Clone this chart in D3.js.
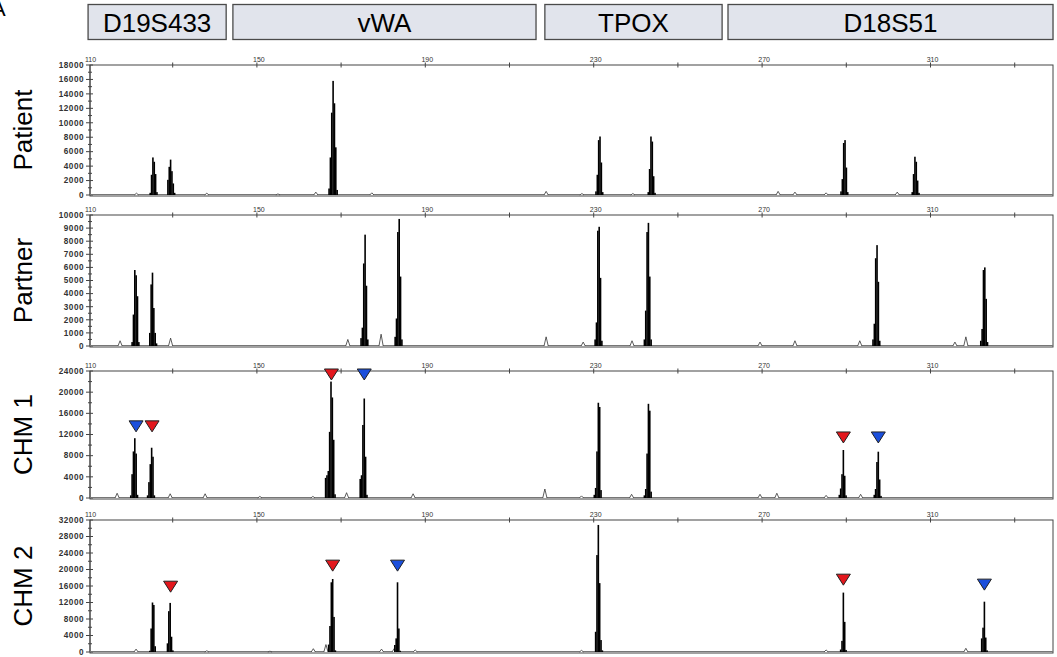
<!DOCTYPE html>
<html>
<head>
<meta charset="utf-8">
<script src="https://cdn.jsdelivr.net/npm/d3@7"></script>
<style>
  body { margin: 0; background: #fff; }
  svg { display: block; font-family: "Liberation Sans", Arial, sans-serif; }
</style>
</head>
<body>
<svg id="chart" width="1057" height="657"></svg>
<script>
// loci shown in the header, as bp ranges
const lociNames = ['D19S433', 'vWA', 'TPOX', 'D18S51'];
const lociRanges = [[109.9, 142.7], [144.3, 216.3], [218.4, 260.5], [261.9, 339.1]];

const sampleNames = ['Patient', 'Partner', 'CHM 1', 'CHM 2'];
const yMaxes = [18000, 10000, 24000, 32000];
const yTickSteps = [2000, 1000, 4000, 4000];
const xLabelTicks = [110, 150, 190, 230, 270, 310];
const xMinorTicks = [130, 170, 210, 250, 290, 330];

// allele peaks: bp of the tallest spike, spike heights (RFU) left to right
const patientPeaks = [
  { bp: 125.3, h: [300, 2800, 5200, 4600, 2900, 400] },
  { bp: 129.5, h: [2100, 3900, 4900, 3300, 1600, 300] },
  { bp: 168.1, h: [900, 5200, 11400, 15800, 12700, 6600, 700] },
  { bp: 231.5, h: [500, 2800, 7600, 8100, 4500, 400] },
  { bp: 243.6, h: [400, 3600, 8100, 7400, 2600, 300] },
  { bp: 289.7, h: [500, 2200, 7200, 7600, 3800, 400] },
  { bp: 306.3, h: [400, 2900, 5300, 4600, 2000, 300] }
];
const partnerPeaks = [
  { bp: 121.0, h: [300, 2400, 5800, 5400, 3800, 300] },
  { bp: 125.2, h: [1000, 4700, 5600, 2900, 1000, 200] },
  { bp: 175.7, h: [600, 1400, 6300, 8500, 4600, 500] },
  { bp: 183.8, h: [700, 2100, 8700, 9700, 5300, 500] },
  { bp: 231.3, h: [500, 1800, 8800, 9100, 5200, 400] },
  { bp: 243.0, h: [500, 2700, 8700, 9400, 5300, 500] },
  { bp: 297.3, h: [500, 1700, 6700, 7700, 4900, 400] },
  { bp: 322.9, h: [400, 1300, 5800, 6000, 3600, 300] }
];
const chm1Peaks = [
  { bp: 121.0, h: [500, 4500, 8800, 11300, 8400, 600] },
  { bp: 125.0, h: [500, 3000, 6400, 9500, 7800, 500] },
  { bp: 167.6, h: [3800, 4300, 5100, 12500, 22000, 19000, 11000, 700] },
  { bp: 175.5, h: [3600, 4300, 13800, 18800, 7800, 600] },
  { bp: 231.1, h: [600, 1900, 8800, 18000, 17200, 1500] },
  { bp: 243.0, h: [500, 1700, 8400, 17800, 16500, 1200] },
  { bp: 289.3, h: [600, 1800, 4500, 9070, 4200, 500] },
  { bp: 297.6, h: [600, 1700, 6800, 8750, 3500, 400] }
];
const chm2Peaks = [
  { bp: 125.2, h: [300, 5700, 12000, 11400, 1400] },
  { bp: 129.4, h: [2100, 9900, 11900, 3700, 400] },
  { bp: 168.0, h: [1800, 6300, 16900, 17700, 8500, 400] },
  { bp: 183.4, h: [1700, 3300, 16900, 5700, 300] },
  { bp: 231.1, h: [4900, 23500, 30800, 16700, 2900, 400] },
  { bp: 289.3, h: [600, 2700, 14400, 7300, 500] },
  { bp: 322.8, h: [3300, 5900, 12200, 3500, 400] }
];

// small background bumps: [bp, height]
const patientNoise = [[121.4, 250], [138.1, 250], [155.0, 150], [164.0, 400], [177.3, 300], [218.7, 500],
  [227.2, 200], [239.3, 200], [273.8, 500], [277.8, 400], [285.2, 300], [302.1, 400]];
const partnerNoise = [[117.5, 400], [129.5, 600], [171.6, 500], [179.5, 900], [218.7, 700], [227.5, 300],
  [239.1, 400], [269.5, 300], [277.8, 400], [293.2, 400], [315.8, 300], [318.4, 700]];
const chm1Noise = [[116.8, 900], [129.4, 800], [137.7, 800], [150.7, 300], [163.3, 300], [171.3, 1000],
  [187.1, 800], [218.4, 1700], [227.1, 400], [239.0, 700], [269.5, 700], [273.5, 900], [285.2, 500], [293.4, 700]];
const chm2Noise = [[121.3, 700], [138.1, 300], [153.1, 200], [163.4, 800], [166.4, 1800], [179.6, 700],
  [182.6, 800], [187.6, 500], [227.1, 400], [285.2, 500], [318.4, 900]];

// allele markers: [bp, tip height, parent]
const chm1Markers = [[121.3, 12500, 'P'], [125.1, 12500, 'M'], [167.7, 22300, 'M'], [175.5, 22300, 'P'],
  [289.3, 10400, 'M'], [297.6, 10400, 'P']];
const chm2Markers = [[129.5, 14500, 'M'], [168.0, 19600, 'M'], [183.4, 19600, 'P'],
  [289.3, 16200, 'M'], [322.8, 15000, 'P']];

const peaksBySample = [patientPeaks, partnerPeaks, chm1Peaks, chm2Peaks];
const noiseBySample = [patientNoise, partnerNoise, chm1Noise, chm2Noise];
const markersBySample = [[], [], chm1Markers, chm2Markers];

const markerColor = { M: '#e3171d', P: '#1b4fdc' };
const panelTops = [65, 215, 371, 520];
const panelBases = [195, 346, 498, 652];
const plotLeft = 90, plotRight = 1053;

const svg = d3.select('#chart');
const x = d3.scaleLinear().domain([110, 339]).range([88.5, 1052.6]);

// header boxes
svg.append('text').attr('x', -9).attr('y', 16).attr('font-size', 22).text('A');
const hdr = svg.append('g');
lociNames.forEach((name, i) => {
  const [a, b] = lociRanges[i];
  hdr.append('rect')
    .attr('x', x(a)).attr('y', 4.5)
    .attr('width', x(b) - x(a)).attr('height', 35)
    .attr('fill', '#e1e4ec').attr('stroke', '#4a4a4a').attr('stroke-width', 1.3);
  hdr.append('text')
    .attr('x', (x(a) + x(b)) / 2).attr('y', 32)
    .attr('text-anchor', 'middle').attr('font-size', 26)
    .text(name);
});

sampleNames.forEach((name, i) => {
  const top = panelTops[i], base = panelBases[i];
  const y = d3.scaleLinear().domain([0, yMaxes[i]]).range([base, top]);
  const g = svg.append('g');

  // sample label
  g.append('text')
    .attr('transform', `translate(32,${(top + base) / 2}) rotate(-90)`)
    .attr('text-anchor', 'middle').attr('font-size', 26)
    .text(name);

  // frame
  g.append('rect')
    .attr('x', plotLeft).attr('y', top)
    .attr('width', plotRight - plotLeft).attr('height', base - top + 1)
    .attr('fill', 'none').attr('stroke', '#444').attr('stroke-width', 1);

  // top size axis
  const topAxis = g.append('g').attr('transform', `translate(0,${top})`);
  topAxis.selectAll('line.tk')
    .data(xLabelTicks.concat(xMinorTicks).filter(d => d > 110))
    .join('line')
    .attr('x1', d => x(d)).attr('x2', d => x(d))
    .attr('y1', -2.5).attr('y2', 2.5)
    .attr('stroke', '#444');
  topAxis.selectAll('text')
    .data(xLabelTicks)
    .join('text')
    .attr('x', d => x(d) + 2).attr('y', -3)
    .attr('text-anchor', 'middle').attr('font-size', 7).attr('fill', '#333')
    .text(d => d);

  // left RFU axis
  const major = d3.range(0, yMaxes[i] + 1, yTickSteps[i]);
  const minor = d3.range(yTickSteps[i] / 2, yMaxes[i], yTickSteps[i]);
  g.append('line')
    .attr('x1', plotLeft).attr('x2', plotLeft)
    .attr('y1', top).attr('y2', base)
    .attr('stroke', '#444');
  g.selectAll('line.maj').data(major).join('line')
    .attr('x1', plotLeft - 4).attr('x2', plotLeft + 3)
    .attr('y1', d => y(d)).attr('y2', d => y(d))
    .attr('stroke', '#444');
  g.selectAll('line.min').data(minor).join('line').attr('class', 'min')
    .attr('x1', plotLeft - 2).attr('x2', plotLeft + 2)
    .attr('y1', d => y(d)).attr('y2', d => y(d))
    .attr('stroke', '#444');
  g.selectAll('text.yl').data(major).join('text').attr('class', 'yl')
    .attr('x', plotLeft - 6).attr('y', d => y(d) + 2.8)
    .attr('text-anchor', 'end').attr('font-size', 8.2).attr('font-weight', 'bold')
    .attr('letter-spacing', 0.5).attr('fill', '#333')
    .text(d => d);

  // baseline trace
  g.append('line')
    .attr('x1', plotLeft).attr('x2', plotRight)
    .attr('y1', base - 0.5).attr('y2', base - 0.5)
    .attr('stroke', '#777').attr('stroke-width', 1.2);

  // background bumps
  g.selectAll('path.noise').data(noiseBySample[i]).join('path')
    .attr('d', d => `M${x(d[0] - 0.5)},${base}L${x(d[0])},${y(d[1])}L${x(d[0] + 0.5)},${base}`)
    .attr('fill', '#fff').attr('stroke', '#333').attr('stroke-width', 0.8);

  // allele peaks as stacked spikes
  peaksBySample[i].forEach(pk => {
    const top_i = pk.h.indexOf(d3.max(pk.h));
    g.selectAll(null).data(pk.h).join('rect')
      .attr('x', (d, j) => x(pk.bp + (j - top_i) * 0.32) - 0.8)
      .attr('width', 1.6)
      .attr('y', d => y(d))
      .attr('height', d => base - y(d))
      .attr('fill', '#000');
  });

  // allele markers
  g.selectAll('path.mk').data(markersBySample[i]).join('path')
    .attr('d', d => {
      const cx = x(d[0]), ty = y(d[1]);
      return `M${cx},${ty}L${cx - 7},${ty - 11}L${cx + 7},${ty - 11}Z`;
    })
    .attr('fill', d => markerColor[d[2]])
    .attr('stroke', '#222').attr('stroke-width', 1);
});
</script>
</body>
</html>
